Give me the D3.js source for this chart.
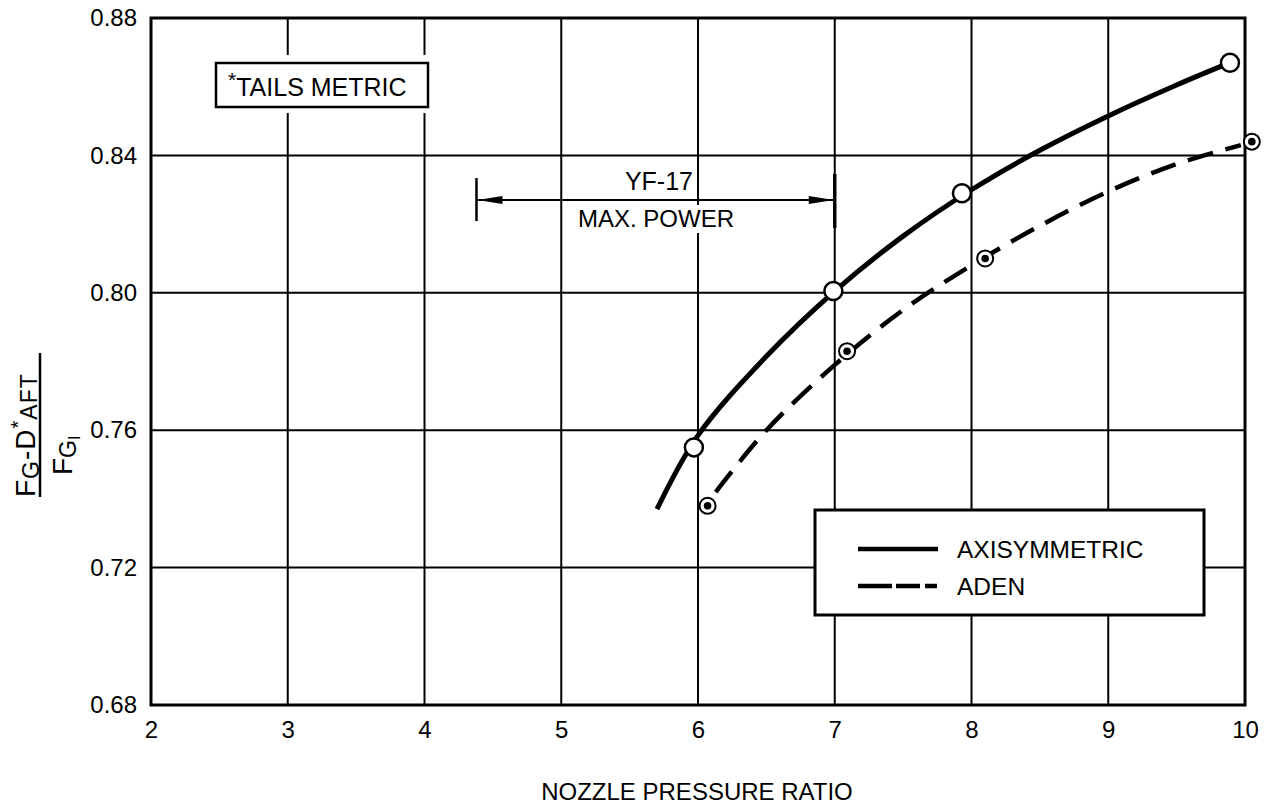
<!DOCTYPE html>
<html>
<head>
<meta charset="utf-8">
<script src="https://cdn.jsdelivr.net/npm/d3@7"></script>
<style>
  html, body { margin: 0; padding: 0; background: #fff; }
  svg { display: block; font-family: "Liberation Sans", Arial, Helvetica, sans-serif; }
</style>
</head>
<body>
<svg id="chart" width="1269" height="808"></svg>
<script>
// Tick values
const nprTicks = [2, 3, 4, 5, 6, 7, 8, 9, 10];
const ratioTicks = [0.68, 0.72, 0.76, 0.80, 0.84, 0.88];

// Axisymmetric nozzle: faired curve and test points
const axiCurveNpr = [5.70, 6.00, 6.50, 7.00, 7.50, 8.00, 8.50, 9.00, 9.50, 9.89];
const axiCurveVal = [0.737, 0.7585, 0.7815, 0.8005, 0.8165, 0.830, 0.8415, 0.8515, 0.8605, 0.867];
const axiPointNpr = [5.97, 6.99, 7.93, 9.89];
const axiPointVal = [0.755, 0.8005, 0.829, 0.867];

// ADEN nozzle: faired curve and test points
const adenCurveNpr = [6.13, 6.50, 7.00, 7.50, 8.00, 8.50, 9.00, 9.50, 9.97];
const adenCurveVal = [0.742, 0.760, 0.779, 0.795, 0.808, 0.8195, 0.8295, 0.8375, 0.843];
const adenPointNpr = [6.07, 7.09, 8.10, 10.05];
const adenPointVal = [0.738, 0.783, 0.810, 0.844];

// YF-17 maximum power band
const maxPowerRange = [4.38, 7.0];
const maxPowerLevel = 0.827;

const svg = d3.select("#chart");
const x = d3.scaleLinear().domain([2, 10]).range([151, 1245]);
const y = d3.scaleLinear().domain([0.68, 0.88]).range([705, 18]);
const [x0, x1] = x.range();
const [y0, y1] = y.range();

// Grid
const grid = svg.append("g").attr("stroke", "#000").attr("stroke-width", 2);
grid.selectAll("line.v").data(nprTicks).join("line")
  .attr("x1", d => x(d)).attr("x2", d => x(d))
  .attr("y1", y0).attr("y2", y1);
grid.selectAll("line.h").data(ratioTicks).join("line")
  .attr("x1", x0).attr("x2", x1)
  .attr("y1", d => y(d)).attr("y2", d => y(d));

// Frame
svg.append("rect")
  .attr("x", x0).attr("y", y1)
  .attr("width", x1 - x0).attr("height", y0 - y1)
  .attr("fill", "none").attr("stroke", "#000").attr("stroke-width", 3);

// Axes (labels only; frame and grid drawn above)
const xAxis = svg.append("g")
  .attr("transform", `translate(0,${y0})`)
  .call(d3.axisBottom(x).tickValues(nprTicks).tickSize(0).tickPadding(16).tickFormat(d3.format("d")));
xAxis.select(".domain").remove();
xAxis.selectAll("text").attr("font-size", 24).attr("fill", "#000")
  .attr("font-family", "Liberation Sans, Arial, sans-serif");

const yAxis = svg.append("g")
  .attr("transform", `translate(${x0},0)`)
  .call(d3.axisLeft(y).tickValues(ratioTicks).tickSize(0).tickPadding(14).tickFormat(d3.format(".2f")));
yAxis.select(".domain").remove();
yAxis.selectAll("text").attr("font-size", 24).attr("fill", "#000")
  .attr("font-family", "Liberation Sans, Arial, sans-serif");

// Note box
const note = svg.append("g");
note.append("rect").attr("x", 210).attr("y", 55).attr("width", 224).attr("height", 58).attr("fill", "#fff");
note.append("rect").attr("x", 216).attr("y", 63).attr("width", 212).attr("height", 44)
  .attr("fill", "#fff").attr("stroke", "#000").attr("stroke-width", 2.5);
const noteText = note.append("text").attr("x", 228).attr("y", 96).attr("font-size", 25);
noteText.append("tspan").attr("font-size", 21).attr("dy", -9).text("*");
noteText.append("tspan").attr("dy", 9).text("TAILS METRIC");

// YF-17 maximum power annotation
const ann = svg.append("g");
const ay = y(maxPowerLevel);
const ax0 = x(maxPowerRange[0]), ax1 = x(maxPowerRange[1]);
ann.append("rect").attr("x", 572).attr("y", 205).attr("width", 168).attr("height", 28).attr("fill", "#fff");
ann.append("line").attr("x1", ax0).attr("x2", ax1).attr("y1", ay).attr("y2", ay)
  .attr("stroke", "#000").attr("stroke-width", 2);
ann.append("line").attr("x1", ax0).attr("x2", ax0).attr("y1", ay - 22).attr("y2", ay + 21)
  .attr("stroke", "#000").attr("stroke-width", 2.5);
ann.append("line").attr("x1", ax1).attr("x2", ax1).attr("y1", ay - 26).attr("y2", ay + 28)
  .attr("stroke", "#000").attr("stroke-width", 3.5);
ann.append("path")
  .attr("d", `M${ax0 + 1},${ay} L${ax0 + 26},${ay - 4} L${ax0 + 26},${ay + 4} Z`).attr("fill", "#000");
ann.append("path")
  .attr("d", `M${ax1 - 1},${ay} L${ax1 - 26},${ay - 4} L${ax1 - 26},${ay + 4} Z`).attr("fill", "#000");
ann.append("text").attr("x", 693).attr("y", 190).attr("text-anchor", "end")
  .attr("font-size", 25).text("YF-17");
ann.append("text").attr("x", 578).attr("y", 227).attr("font-size", 24).text("MAX. POWER");

// Curves
const line = d3.line().x(d => x(d[0])).y(d => y(d[1])).curve(d3.curveCatmullRom.alpha(0.5));
svg.append("path")
  .attr("d", line(d3.zip(axiCurveNpr, axiCurveVal)))
  .attr("fill", "none").attr("stroke", "#000").attr("stroke-width", 5);
svg.append("path")
  .attr("d", line(d3.zip(adenCurveNpr, adenCurveVal)))
  .attr("fill", "none").attr("stroke", "#000").attr("stroke-width", 4.5)
  .attr("stroke-dasharray", "26 13");

// Test points
svg.append("g").selectAll("circle").data(d3.zip(axiPointNpr, axiPointVal)).join("circle")
  .attr("cx", d => x(d[0])).attr("cy", d => y(d[1])).attr("r", 9)
  .attr("fill", "#fff").attr("stroke", "#000").attr("stroke-width", 2.5);
const aden = svg.append("g").selectAll("g").data(d3.zip(adenPointNpr, adenPointVal)).join("g")
  .attr("transform", d => `translate(${x(d[0])},${y(d[1])})`);
aden.append("circle").attr("r", 8).attr("fill", "#fff").attr("stroke", "#000").attr("stroke-width", 2);
aden.append("circle").attr("r", 3.8).attr("fill", "#000");

// Legend
const leg = svg.append("g");
leg.append("rect").attr("x", 815).attr("y", 510).attr("width", 389).attr("height", 105)
  .attr("fill", "#fff").attr("stroke", "#000").attr("stroke-width", 3);
leg.append("line").attr("x1", 858).attr("x2", 938).attr("y1", 549).attr("y2", 549)
  .attr("stroke", "#000").attr("stroke-width", 4.5);
leg.append("line").attr("x1", 858).attr("x2", 937).attr("y1", 586).attr("y2", 586)
  .attr("stroke", "#000").attr("stroke-width", 4.5).attr("stroke-dasharray", "34 4 24 5 12");
leg.append("text").attr("x", 957).attr("y", 558).attr("font-size", 24.5).text("AXISYMMETRIC");
leg.append("text").attr("x", 957).attr("y", 595).attr("font-size", 24.5).text("ADEN");

// Axis titles
svg.append("text").attr("x", 697).attr("y", 800).attr("text-anchor", "middle")
  .attr("font-size", 24).text("NOZZLE PRESSURE RATIO");

const yt = svg.append("g").attr("transform", "translate(40,425) rotate(-90)");
yt.append("line").attr("x1", -72).attr("x2", 72).attr("y1", 0).attr("y2", 0)
  .attr("stroke", "#000").attr("stroke-width", 2.5);
const num = yt.append("text").attr("x", -72).attr("y", -5).attr("font-size", 28)
  .attr("letter-spacing", 1);
num.append("tspan").text("F");
num.append("tspan").attr("font-size", 23).attr("dy", 4).text("G");
num.append("tspan").attr("dy", -4).text("-D");
num.append("tspan").attr("font-size", 20).attr("dy", -10).text("*");
num.append("tspan").attr("font-size", 23).attr("dy", 12).text("AFT");
const den = yt.append("text").attr("x", -50).attr("y", 32).attr("font-size", 28);
den.append("tspan").text("F");
den.append("tspan").attr("font-size", 23).attr("dy", 4).text("G");
den.append("tspan").attr("font-size", 16).attr("dy", 4).text("I");
</script>
</body>
</html>
